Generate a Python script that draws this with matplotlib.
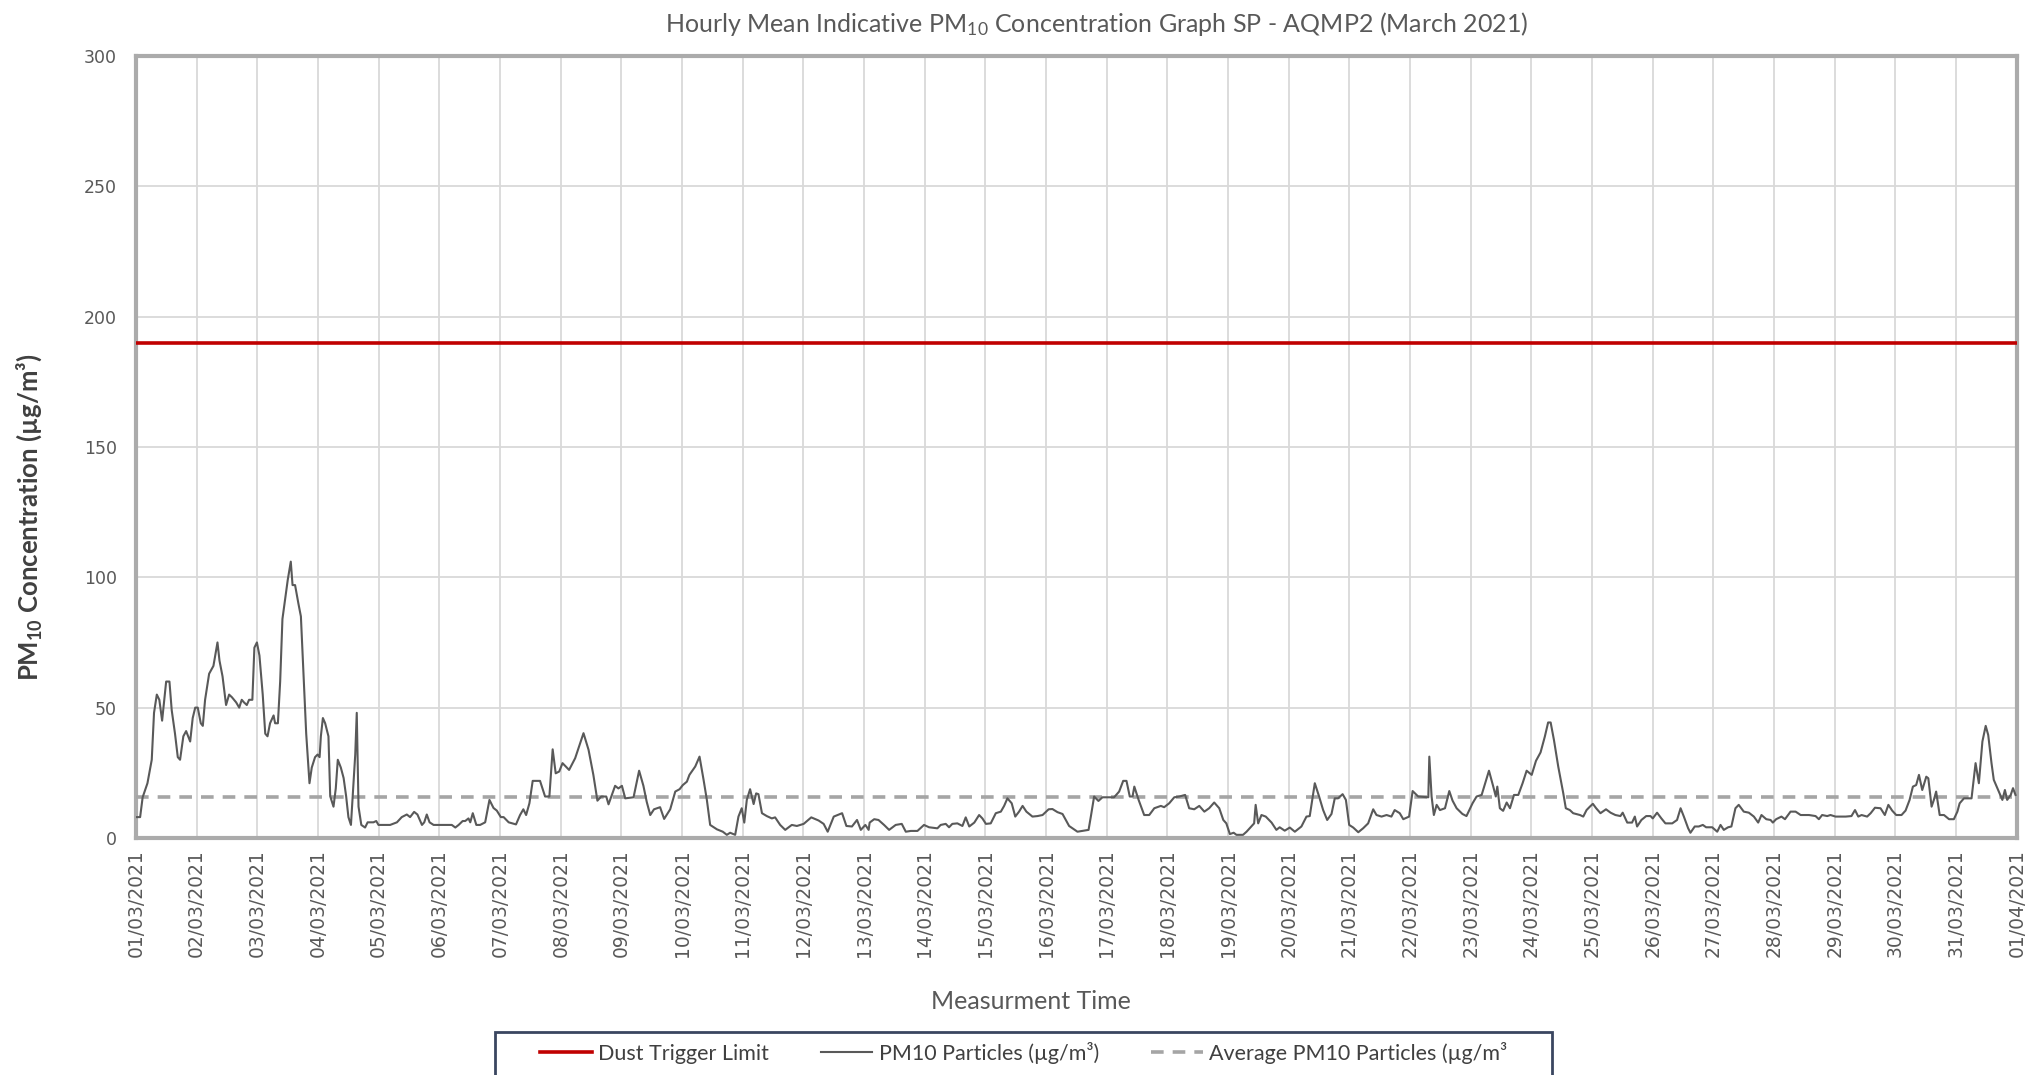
import matplotlib
matplotlib.use("Agg")

import pandas as pd
import matplotlib.pyplot as plt
import matplotlib.dates as mdates
from matplotlib.lines import Line2D
from matplotlib.patches import Rectangle

plt.rcParams["font.family"] = ["Lato", "DejaVu Sans"]
plt.rcParams["mathtext.fontset"] = "custom"
plt.rcParams["mathtext.rm"] = "Lato"
plt.rcParams["mathtext.it"] = "Lato"
plt.rcParams["mathtext.bf"] = "Lato:bold"

# ---------------- data ----------------
# hours since 01/03/2021 00:00 and the hourly PM10 value there
hours = [
    0, 1.6, 2.6, 4.5, 6.2, 7.1, 8.2, 9.2, 10.3, 11.9, 13.2, 14.1, 15.4, 16.5, 17.4, 18.7, 19.8, 21.4, 22.4, 23.4, 24.4,
    25.6, 26.4, 27.3, 28.9, 30.6, 32.2, 33.0, 34.2, 35.6, 36.8, 37.9, 39.6, 40.8, 41.8, 42.7, 43.8, 44.7, 46.0, 46.8, 47.8,
    48.8, 50.1, 51.1, 52.0, 53.0, 54.4, 55.0, 56.1, 57.0, 57.9, 59.0, 60.0, 61.2, 61.9, 62.9, 64.2, 65.2, 66.2, 67.3, 68.6,
    69.5, 70.8, 71.8, 72.6, 73.1, 73.9, 74.8, 76.1, 76.8, 78.1, 79.0, 79.8, 81.0, 82.1, 83.1, 84.0, 85.0, 85.8, 86.7, 87.3,
    88.0, 89.1, 90.6, 91.6, 93.9, 95.0, 95.9, 97.9, 100.5, 103.2, 105.1, 107.1, 108.4, 110.0, 111.3, 113.1, 114.0, 115.0,
    116.1, 117.7, 120.3, 123.0, 124.9, 126.3, 127.6, 129.2, 130.2, 131.5, 132.2, 133.2, 134.6, 136.1, 138.1, 139.8, 141.4,
    142.7, 144.3, 145.4, 147.4,
    150.3, 151.9, 153.2, 154.3, 155.6, 156.9, 159.8, 161.8, 163.5, 164.8, 166.0, 167.4, 168.7, 171.3, 173.7, 175.0, 177.0,
    179.0, 180.9, 182.5, 184.0, 186.0, 186.9, 188.2, 189.5, 190.8, 192.2, 193.5, 196.8, 199.0, 200.7, 202.0, 203.4, 204.9,
    207.3, 208.9, 211.3, 213.3, 215.0, 216.3, 217.9, 218.9, 221.2, 222.9, 224.5, 225.8, 227.1, 229.8, 232.1, 233.7, 235.0,
    237.0, 238.3, 239.6, 240.6, 241.6, 242.9, 244.3, 245.3, 246.2, 247.6, 249.5, 251.5, 252.8, 254.8, 256.8, 259.4, 261.4,
    264.1, 267.1, 270.0, 272.0, 273.6, 276.0, 279.3, 281.0, 283.2, 285.2, 286.7, 288.5, 289.8,
    290.2, 292.0, 293.7, 295.9, 297.9, 300.5, 302.9, 304.5, 306.5, 309.1, 311.7, 313.7, 317.0, 318.3, 320.3, 321.6, 322.9,
    324.9, 326.9, 328.2, 329.6, 331.6, 333.5, 334.8, 336.2, 338.1, 340.1, 342.1, 343.4, 344.7, 346.4, 347.8, 349.3, 350.7,
    352.2, 354.6, 356.6, 358.6, 361.0, 362.5, 364.5, 366.5, 369.1, 372.4, 374.4, 376.8, 377.7, 379.0, 380.7, 382.3, 386.9,
    388.9, 390.5, 391.8, 393.1, 394.2, 394.9, 396.6, 398.8, 400.8, 402.8, 405.4, 406.7, 408.7, 410.7, 412.7, 415.0, 416.6,
    418.6, 420.6, 422.6, 424.5, 426.5, 428.5, 430.1,
    431.3, 432.7, 434.2, 435.3, 437.9, 439.3, 441.2, 442.3, 442.9, 443.9, 445.2, 446.9, 449.2, 451.1, 452.4, 454.4, 456.4,
    458.4, 461.0, 463.0, 464.3, 466.3, 468.0, 469.6, 471.2, 472.9, 474.2, 475.5, 477.3, 478.6, 479.9, 481.5, 483.5, 485.4,
    487.4, 489.4, 490.7, 492.7, 494.7, 496.6, 497.9, 499.9, 501.3, 503.6, 505.0, 507.2, 511.2, 511.6, 512.5, 513.4, 514.5,
    515.8, 517.8, 519.5, 520.8, 522.4, 524.7, 526.3, 528.7, 530.3, 532.3, 533.6, 535.2, 536.9, 537.9, 538.5, 539.5, 540.8,
    542.2, 543.5, 545.1, 546.8, 548.5, 550.1, 552.1, 553.8, 555.6, 557.3, 558.6, 559.6, 560.9, 562.6, 564.6, 565.6, 567.2,
    568.5, 571.2, 572.5, 573.8, 575.1,
    576.3, 577.6, 579.3, 581.5, 583.3, 585.2, 587.2, 588.1, 589.9, 591.8, 592.9, 593.8, 595.5, 597.4, 599.1, 600.0, 601.7,
    603.4, 605.0, 607.7, 609.6, 611.0, 612.3, 614.0, 614.9, 616.6, 618.2, 619.8, 621.1, 623.5, 625.5, 626.8, 628.1, 629.8,
    631.1, 632.7, 634.0, 636.0, 638.0, 640.0, 641.7, 643.0, 644.9, 646.6, 647.5, 648.8, 650.9, 652.3, 654.5, 656.5, 658.5,
    661.8, 664.4, 665.7, 667.0, 669.0, 670.3, 672.3, 676.3, 678.6, 680.0, 681.3, 682.6, 684.8, 686.2, 687.9, 690.1, 691.8,
    693.2, 694.7, 696.3, 698.4, 700.0, 701.6, 702.9, 704.2, 705.3, 706.6, 708.2, 709.0, 710.3, 711.2, 712.1, 713.5, 715.2,
    717.2, 719.1, 720.5, 721.4, 723.1, 726.1, 727.7, 729.0, 730.4, 731.7, 732.7, 734.0, 734.9, 736.3, 738.3, 739.3, 740.2,
    741.6, 742.5, 743.5,
]

pm10 = [
    8, 8, 15.6, 21, 30, 48, 55, 53, 45, 60, 60, 49, 40, 31, 30, 39, 41, 37, 46, 50, 50,
    44, 43, 53, 63, 66, 75, 68, 62, 51, 55, 54, 52, 50, 53, 52, 51, 53, 53, 73, 75,
    70, 55, 40, 39, 44, 47, 44, 44, 60, 84, 92, 99, 106, 97, 97, 90, 85, 64, 40, 21,
    27, 31, 32, 31, 39, 46, 44, 39, 16, 12, 19, 30, 27, 23, 16, 8, 5, 18, 32, 48,
    12, 5, 4, 6, 6, 6.5, 5, 5, 5, 6, 8, 9, 8, 10, 9, 5, 6, 9,
    6, 5, 5, 5, 5, 4, 5, 6.5, 6.5, 7.5, 6, 9.5, 5, 5, 6, 14.6, 11.5,
    10.5, 8, 8, 6,
    5.2, 8.8, 11, 8.8, 13.3, 21.9, 21.9, 15.9, 15.9, 34, 24.8, 25.5, 28.7, 26.1, 30.6, 34.4, 40.2,
    33.8, 24.2, 14.3, 15.9, 15.9, 12.9, 16.5, 20, 19, 20, 15.2, 15.6, 25.8, 20, 13.9, 8.8, 11,
    11.8, 7.3, 11, 17.8, 18.7, 20.3, 21.6, 24.2, 27.4, 31.2, 22.3, 14.6, 5, 3.3, 2.4, 1.2, 2,
    1.2, 8.2, 11.4, 5.9, 14.6, 18.7, 13, 17.1, 16.8, 9.5, 8.4, 7.5, 7.9, 5, 3.1, 5, 4.6,
    5.4, 7.9, 6.7, 5.4, 2.4, 8.2, 9.5, 4.6, 4.4, 6.9, 3.1, 5, 3.1,
    5.9, 7.2, 6.9, 5, 3.1, 5, 5.4, 2.4, 2.7, 2.7, 5, 4.1, 3.7, 5, 5.4, 4.1, 5.4,
    5.6, 4.6, 7.9, 4.4, 5.9, 8.8, 7.5, 5.4, 5.6, 9.5, 10.1, 12.3, 15.2, 13.3, 8.2, 10.1, 12.3,
    10.1, 8.2, 8.4, 8.8, 11, 11.1, 9.9, 9.2, 4.6, 2.4, 2.7, 3.1, 8.2, 15.9, 14.2, 15.6, 15.6,
    17.8, 21.9, 21.9, 15.9, 15.9, 19.7, 14.6, 8.8, 8.8, 11.4, 12.3, 11.8, 13.3, 15.6, 15.9, 16.5, 11.4,
    11, 12.3, 10.1, 11.4, 13.6, 11.4, 6.9,
    5.6, 1.5, 2, 1.2, 1.2, 2.4, 4.4, 5.6, 12.7, 5.6, 8.8, 8.2, 5.9, 3.1, 4.1, 2.8, 4,
    2.4, 4.4, 8.2, 8.4, 21, 15.9, 10.7, 6.9, 9.2, 15.2, 15.2, 16.8, 14.6, 5, 4, 2.2, 3.7,
    5.6, 11, 8.8, 8.2, 8.8, 8.2, 10.7, 9.5, 7.2, 8.2, 18, 15.9, 15.6, 31.2, 15.9, 8.8, 12.7,
    10.7, 11.4, 18, 14.3, 11.4, 9.2, 8.4, 13.3, 15.9, 16.5, 20.7, 25.8, 19.7, 15.9, 19.7, 11.4, 10.4,
    13.6, 11.4, 16.5, 16.5, 21, 25.8, 24.2, 29.6, 32.8, 38.9, 44.3, 44.3, 37.6, 27.4, 17.1, 11.4, 10.7,
    9.5, 8.8, 8.2, 10.7, 12,
    13.1, 11.4, 9.5, 11, 9.7, 8.8, 8.4, 9.7, 5.9, 5.9, 8.2, 4.4, 6.9, 8.4, 8.4, 7.5, 9.7,
    7.5, 5.6, 5.6, 6.9, 11.4, 8.2, 3.7, 2, 4.4, 4.4, 5, 4.1, 4.1, 2.4, 5, 3.1, 4.1,
    4.4, 11.4, 12.7, 10.1, 9.7, 8.2, 5.9, 8.8, 7.2, 6.9, 5.9, 7.2, 8.2, 7.2, 10.1, 10.1, 8.8,
    8.8, 8.4, 7.2, 8.8, 8.4, 8.8, 8.2, 8.2, 8.4, 10.7, 8.2, 8.8, 8.2, 9.5, 11.6, 11.4, 8.8,
    12.7, 10.5, 8.8, 8.8, 10.5, 14.6, 19.7, 20.3, 24.2, 18.4, 23.5, 22.9, 12, 14.6, 17.8, 8.8, 8.8,
    7.2, 7.2, 10.1, 13.3, 15.2, 15.2, 28.7, 21, 37, 43, 39.5, 28.7, 22.3, 19.1, 14.6, 18.4, 14.6,
    16.5, 19.1, 16.5,
]

dust_trigger = 190
avg_pm10 = 15.6

start = pd.Timestamp("2021-03-01")
end = pd.Timestamp("2021-04-01")
times = start + pd.to_timedelta(hours, unit="h")

# ---------------- figure ----------------
fig = plt.figure(figsize=(20.31, 10.75), dpi=100)
ax = fig.add_axes([0.067, 0.2205, 0.926, 0.7275])

ax.axhline(dust_trigger, color="#c00000", lw=2.6, zorder=3)
ax.plot(times, pm10, color="#595959", lw=1.5, zorder=4)
ax.axhline(avg_pm10, color="#a5a5a5", lw=2.6, ls=(0, (3.5, 2.5)), zorder=3)

ax.set_xlim(start, end)
ax.set_ylim(0, 300)
ax.set_yticks(range(0, 301, 50))
ax.xaxis.set_major_locator(mdates.DayLocator())
ax.xaxis.set_major_formatter(mdates.DateFormatter("%d/%m/%Y"))

ax.grid(True, color="#d9d9d9", lw=1.3, zorder=0)
ax.set_axisbelow(True)
for s in ax.spines.values():
    s.set_color("#ababab")
    s.set_linewidth(3)

ax.tick_params(axis="both", length=0, colors="#595959")
for lab in ax.get_yticklabels():
    lab.set_fontfamily("DejaVu Sans")
    lab.set_fontsize(12.5)
ax.tick_params(axis="y", pad=14)
ax.tick_params(axis="x", pad=8)
for lab in ax.get_xticklabels():
    lab.set_fontfamily("DejaVu Sans")
    lab.set_fontsize(13.5)
    lab.set_rotation(90)

ax.set_xlabel("Measurment Time", fontsize=18, color="#595959")
ax.xaxis.set_label_coords(0.476, -0.195)
ax.set_ylabel(r"PM$_{\mathbf{10}}$ Concentration (µg/m³)", fontsize=18.5, color="#404040",
              fontweight="bold")
ax.yaxis.set_label_coords(-0.049, 0.41)
fig.text(0.54, 0.978, "Hourly Mean Indicative PM$_{10}$ Concentration Graph SP - AQMP2 (March 2021)",
         ha="center", va="center", fontsize=18, color="#595959")

# legend box runs off the bottom edge of the figure, as in the original
fig.patches.append(Rectangle((495 / 2031, -0.05), (1552 - 495) / 2031, 0.09,
                             transform=fig.transFigure, facecolor="white",
                             edgecolor="#3a4660", lw=2, zorder=1))

handles = [
    Line2D([], [], color="#c00000", lw=2.6),
    Line2D([], [], color="#595959", lw=1.5),
    Line2D([], [], color="#a5a5a5", lw=2.6, ls=(0, (3.5, 2.5))),
]
labels = ["Dust Trigger Limit", "PM10 Particles (µg/m³)", "Average PM10 Particles (µg/m³"]
leg = fig.legend(handles, labels, loc="upper center", bbox_to_anchor=(0.504, 0.041), ncol=3,
                 fontsize=15.5, frameon=False, handlelength=2.4,
                 handletextpad=0.3, columnspacing=2.4, borderpad=0.5, borderaxespad=0,
                 labelcolor="#404040")
leg.set_zorder(2)

fig.savefig("out.png", dpi=100)
plt.close()
